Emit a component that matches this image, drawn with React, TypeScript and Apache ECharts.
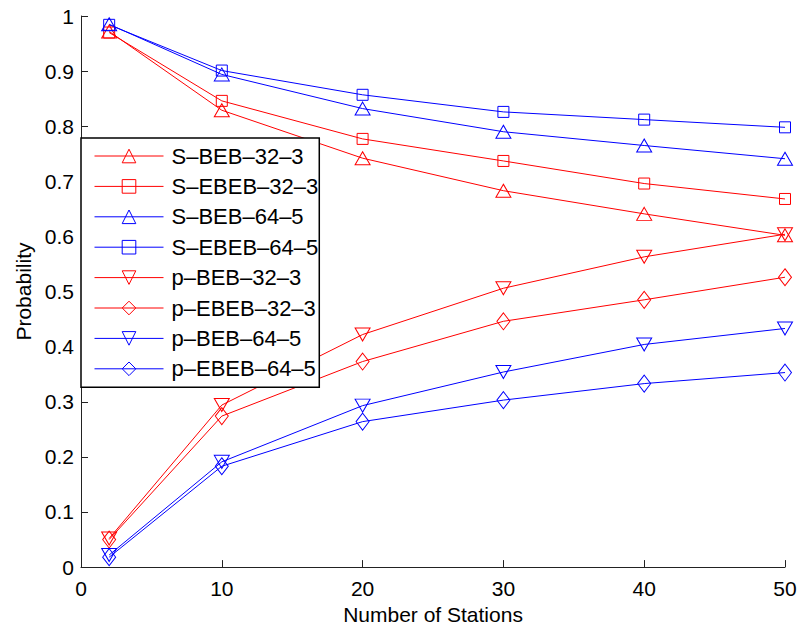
import React, { useEffect, useRef } from "react";
import * as echarts from "echarts";

const stations = [2, 10, 20, 30, 40, 50];
const sBeb32 = [0.972, 0.829, 0.742, 0.683, 0.641, 0.602];
const sEbeb32 = [0.970, 0.846, 0.777, 0.737, 0.696, 0.668];
const sBeb64 = [0.985, 0.894, 0.832, 0.790, 0.765, 0.741];
const sEbeb64 = [0.984, 0.901, 0.857, 0.826, 0.812, 0.798];
const pBeb32 = [0.052, 0.294, 0.422, 0.506, 0.563, 0.604];
const pEbeb32 = [0.050, 0.274, 0.373, 0.446, 0.485, 0.526];
const pBeb64 = [0.022, 0.191, 0.293, 0.354, 0.404, 0.433];
const pEbeb64 = [0.018, 0.183, 0.264, 0.303, 0.333, 0.353];

const seriesNames = [
  "S–BEB–32–3",
  "S–EBEB–32–3",
  "S–BEB–64–5",
  "S–EBEB–64–5",
  "p–BEB–32–3",
  "p–EBEB–32–3",
  "p–BEB–64–5",
  "p–EBEB–64–5",
];
const seriesValues = [sBeb32, sEbeb32, sBeb64, sEbeb64, pBeb32, pEbeb32, pBeb64, pEbeb64];
const RED = "#ff0000";
const BLUE = "#0000ff";
const seriesColors = [RED, RED, BLUE, BLUE, RED, RED, BLUE, BLUE];
const seriesMarkers = ["up", "square", "up", "square", "down", "diamond", "down", "diamond"];

const FONT = "'Liberation Sans', Arial, Helvetica, sans-serif";

function markerProps(kind: string) {
  switch (kind) {
    case "up":
      return { symbol: "triangle", symbolSize: [15, 13], symbolRotate: 0 };
    case "down":
      return { symbol: "triangle", symbolSize: [15, 13], symbolRotate: 180 };
    case "square":
      return { symbol: "rect", symbolSize: [11, 11], symbolRotate: 0 };
    default:
      return { symbol: "diamond", symbolSize: [13, 17], symbolRotate: 0 };
  }
}

export default function App() {
  const ref = useRef<HTMLDivElement>(null);
  useEffect(() => {
    if (!ref.current) return;
    const chart = echarts.init(ref.current, undefined, { renderer: "svg" });
    const series = seriesNames.map((name, i) => ({
      name,
      type: "line",
      data: stations.map((x, j) => [x, seriesValues[i][j]]),
      ...markerProps(seriesMarkers[i]),
      showAllSymbol: true,
      lineStyle: { color: seriesColors[i], width: 1 },
      itemStyle: { color: "rgba(0,0,0,0)", borderColor: seriesColors[i], borderWidth: 1 },
      emphasis: { disabled: true },
      z: 2,
    }));
    chart.setOption({
      animation: false,
      textStyle: { fontFamily: FONT },
      grid: { left: 81, right: 16, top: 16, bottom: 59, containLabel: false },
      legend: {
        data: seriesNames,
        orient: "vertical",
        left: 81,
        top: 138,
        itemWidth: 69,
        itemHeight: 17,
        itemGap: 8.4,
        padding: [7, 1, 7.5, 13],
        backgroundColor: "#ffffff",
        borderColor: "#000000",
        borderWidth: 1.5,
        borderRadius: 0,
        selectedMode: false,
        itemStyle: { borderWidth: 1 },
        lineStyle: { width: 1 },
        textStyle: { fontSize: 22, color: "#000", fontFamily: FONT, padding: [0, 0, 0, 3] },
      },
      xAxis: {
        type: "value",
        min: 0,
        max: 50,
        interval: 10,
        name: "Number of Stations",
        nameLocation: "middle",
        nameGap: 32,
        nameTextStyle: { fontSize: 21, color: "#000", fontFamily: FONT },
        axisLine: { show: true, lineStyle: { color: "#222", width: 1 } },
        axisTick: { show: true, inside: true, length: 7, lineStyle: { color: "#222" } },
        axisLabel: { fontSize: 21, color: "#000", margin: 11, fontFamily: FONT },
        splitLine: { show: false },
      },
      yAxis: {
        type: "value",
        min: 0,
        max: 1,
        interval: 0.1,
        name: "Probability",
        nameLocation: "middle",
        nameGap: 46,
        nameRotate: 90,
        nameTextStyle: { fontSize: 21, color: "#000", fontFamily: FONT },
        axisLine: { show: true, lineStyle: { color: "#222", width: 1 } },
        axisTick: { show: true, inside: true, length: 7, lineStyle: { color: "#222" } },
        axisLabel: { fontSize: 21, color: "#000", margin: 7, fontFamily: FONT },
        splitLine: { show: false },
      },
      series,
    });
    return () => chart.dispose();
  }, []);
  return (
    <div
      ref={ref}
      style={{ position: "absolute", left: 0, top: 0, width: 801, height: 630, background: "#fff" }}
    />
  );
}
